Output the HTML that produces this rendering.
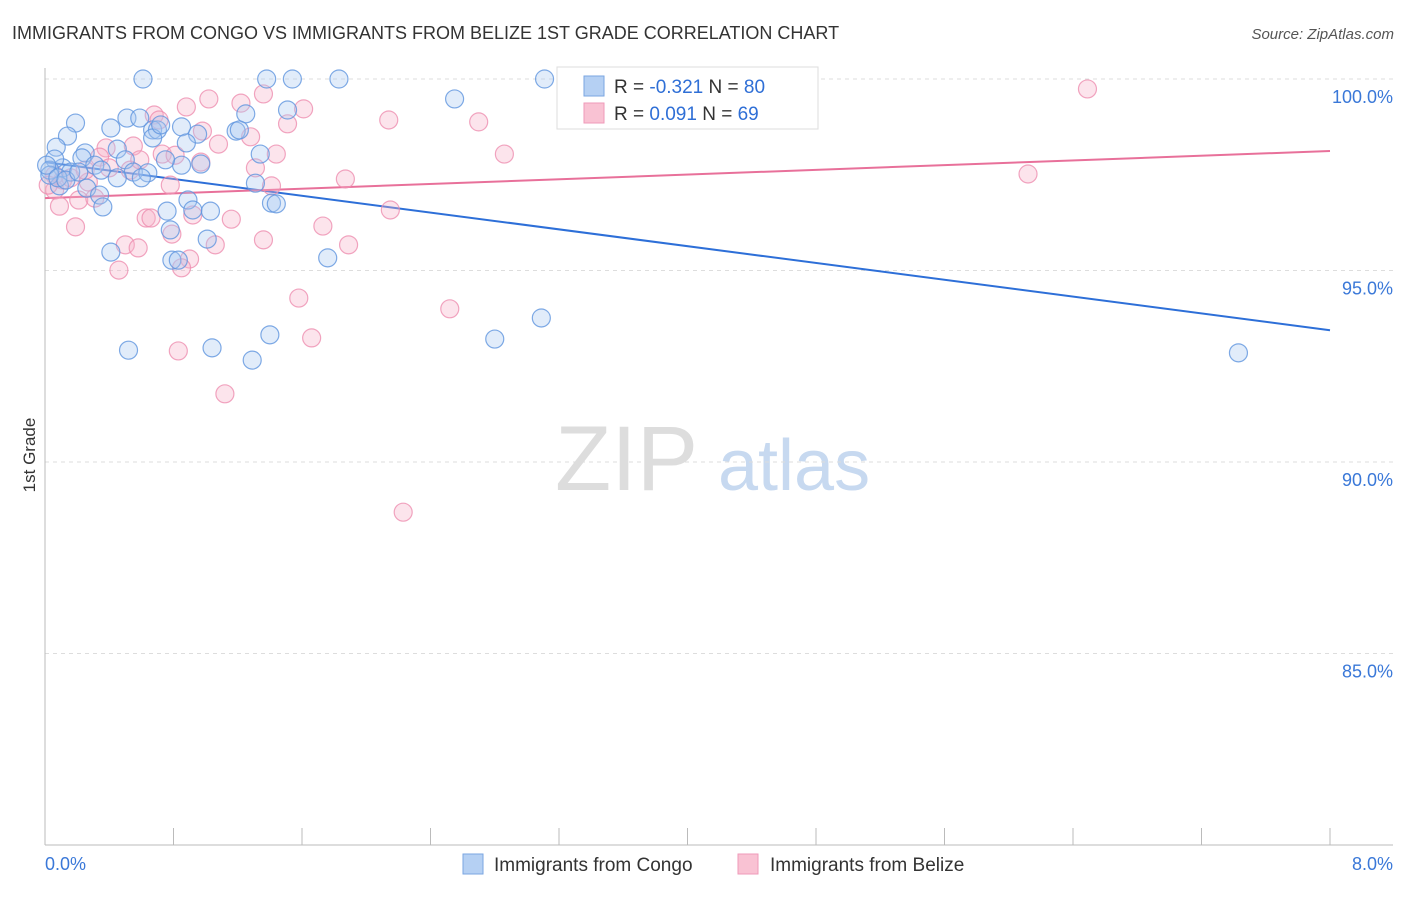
<!DOCTYPE html>
<html><head><meta charset="utf-8">
<style>
body{margin:0;background:#fff;font-family:"Liberation Sans",sans-serif;}
svg text{font-family:"Liberation Sans",sans-serif;}
</style></head>
<body>
<svg width="1406" height="892" viewBox="0 0 1406 892" xmlns="http://www.w3.org/2000/svg">
<text x="12" y="39" font-size="18" fill="#333">IMMIGRANTS FROM CONGO VS IMMIGRANTS FROM BELIZE 1ST GRADE CORRELATION CHART</text>
<text x="1394" y="39" font-size="15" fill="#555" text-anchor="end" font-style="italic">Source: ZipAtlas.com</text>
<text x="35" y="455" font-size="17" fill="#333" text-anchor="middle" transform="rotate(-90 35 455)">1st Grade</text>
<g><text x="555" y="490" font-size="92" fill="#ddd" font-family="Liberation Serif,serif">ZIP</text><text x="718" y="490" font-size="72" fill="#c7d9f0">atlas</text></g>
<g id="grid"></g>
<g id="axes"></g>
<g id="lines"></g>
<g id="pts"></g>
<g>
<rect x="557" y="67" width="261" height="62" fill="#fff" stroke="#ddd"/>
<rect x="584" y="76" width="20" height="20" fill="#b5d0f3" stroke="#7aa6e2"/>
<text x="614" y="93" font-size="19" fill="#333">R = <tspan fill="#2f6fd6">-0.321</tspan>   N = <tspan fill="#2f6fd6">80</tspan></text>
<rect x="584" y="103" width="20" height="20" fill="#f9c2d3" stroke="#ef9ab8"/>
<text x="614" y="120" font-size="19" fill="#333">R =  <tspan fill="#2f6fd6">0.091</tspan>   N = <tspan fill="#2f6fd6">69</tspan></text>
</g>
<g>
<rect x="463" y="854" width="20" height="20" fill="#b5d0f3" stroke="#7aa6e2"/>
<text x="494" y="871" font-size="19" fill="#333">Immigrants from Congo</text>
<rect x="738" y="854" width="20" height="20" fill="#f9c2d3" stroke="#ef9ab8"/>
<text x="770" y="871" font-size="19" fill="#333">Immigrants from Belize</text>
</g>
</svg>
<script>
const yTicks=[100,95,90,85];
const yTickLabels=["100.0%","95.0%","90.0%","85.0%"];
const xTickLabels=["0.0%","8.0%"];
const congoX=[0.61,1.38,1.54,1.83,3.11,2.55,1.51,1.25,0.19,0.51,0.59,0.85,0.67,0.70,1.19,0.14,0.41,0.95,0.67,0.88,0.07,0.25,0.45,1.34,0.23,0.50,0.31,0.11,0.06,0.03,0.16,0.35,0.55,0.64,0.45,0.60,0.85,0.97,1.31,0.09,0.26,0.34,0.36,0.89,0.76,1.03,1.41,1.44,0.41,0.79,0.83,1.01,1.76,1.40,0.52,1.04,1.29,2.80,3.09,7.43,0.03,0.01,0.08,0.78,0.92,1.21,0.72,0.75,0.13,0.21];
const congoY=[100,100,100,100,100,99.48,99.19,99.09,98.85,98.98,98.98,98.75,98.67,98.67,98.64,98.51,98.72,98.56,98.46,98.33,98.22,98.07,98.17,98.04,97.94,97.89,97.75,97.68,97.91,97.62,97.57,97.62,97.57,97.55,97.42,97.42,97.75,97.78,97.28,97.21,97.15,96.97,96.66,96.84,96.55,96.55,96.76,96.74,95.48,95.27,95.27,95.82,95.33,93.32,92.92,92.98,92.66,93.21,93.76,92.85,97.49,97.75,97.42,96.06,96.58,98.67,98.80,97.89,97.36,97.57];
const belizeX=[4.44,6.49,1.36,1.02,1.22,0.88,1.61,0.68,0.71,1.51,2.14,2.70,0.98,1.28,1.08,0.38,0.55,0.73,1.44,2.86,0.34,0.97,1.31,1.87,6.12,0.53,0.78,1.41,0.11,0.27,0.06,0.21,0.31,0.09,2.15,0.63,0.66,0.92,1.16,0.19,0.79,1.73,1.36,0.50,0.58,1.06,1.89,0.90,0.85,0.46,1.58,2.52,1.66,0.83,1.12,2.23,0.06,0.16,0.40,0.59,0.02,0.25,0.81];
const belizeY=[100,99.74,99.61,99.48,99.37,99.27,99.22,99.06,98.93,98.83,98.93,98.88,98.64,98.49,98.30,98.20,98.25,98.04,98.04,98.04,97.96,97.83,97.68,97.39,97.52,97.62,97.23,97.21,97.36,97.31,97.10,96.84,96.89,96.68,96.58,96.37,96.37,96.45,96.34,96.14,95.95,96.16,95.80,95.67,95.59,95.67,95.67,95.30,95.07,95.01,94.28,94.00,93.24,92.90,91.78,88.69,97.49,97.42,97.68,97.89,97.23,97.62,98.01];
const congoTrend=[97.83,93.44];
const belizeTrend=[96.89,98.12];
const NS="http://www.w3.org/2000/svg";
const X=v=>45+v/8*1285;
const Y=v=>79+(100-v)/5*191.5;
function mk(tag,attrs,parent){const e=document.createElementNS(NS,tag);for(const k in attrs)e.setAttribute(k,attrs[k]);parent.appendChild(e);return e;}
const grid=document.getElementById('grid'),axes=document.getElementById('axes'),lines=document.getElementById('lines'),pts=document.getElementById('pts');
yTicks.forEach((t,i)=>{
 const l=mk('line',{x1:45,x2:1393,y1:Y(t),y2:Y(t),stroke:'#ddd','stroke-dasharray':'4 4'},grid);
 
 
 const tx=mk('text',{x:1393,y:Y(t)+24,'font-size':18,fill:'#3a78d8','text-anchor':'end'},grid);
 tx.textContent=yTickLabels[i];
 
 
});
mk('line',{x1:45,x2:45,y1:68,y2:845,stroke:'#bbb'},axes);
mk('line',{x1:45,x2:1393,y1:845,y2:845,stroke:'#bbb'},axes);
for(let i=0;i<=10;i++){mk('line',{x1:X(i*0.8),x2:X(i*0.8),y1:828,y2:845,stroke:'#bbb'},axes);}
const xl0=mk('text',{x:45,y:870,'font-size':18,fill:'#3a78d8'},axes);xl0.textContent=xTickLabels[0];


const xl1=mk('text',{x:1393,y:870,'font-size':18,fill:'#3a78d8','text-anchor':'end'},axes);xl1.textContent=xTickLabels[1];


function series(xs,ys,fill,stroke,name){xs.forEach((x,i)=>{const c=mk('circle',{cx:X(x),cy:Y(ys[i]),r:9,fill:fill,'fill-opacity':0.35,stroke:stroke,'stroke-opacity':0.8,'stroke-width':1.2},pts);
 
 });}
series(belizeX,belizeY,'#f7b3c9','#ee8fb0','belize-point');
series(congoX,congoY,'#a9c8f0','#5f95de','congo-point');
const lb=mk('line',{x1:X(0),y1:Y(congoTrend[0]),x2:X(8),y2:Y(congoTrend[1]),stroke:'#2d6fd8','stroke-width':2},lines);


const lp=mk('line',{x1:X(0),y1:Y(belizeTrend[0]),x2:X(8),y2:Y(belizeTrend[1]),stroke:'#e8709a','stroke-width':2},lines);


</script>
</body></html>
